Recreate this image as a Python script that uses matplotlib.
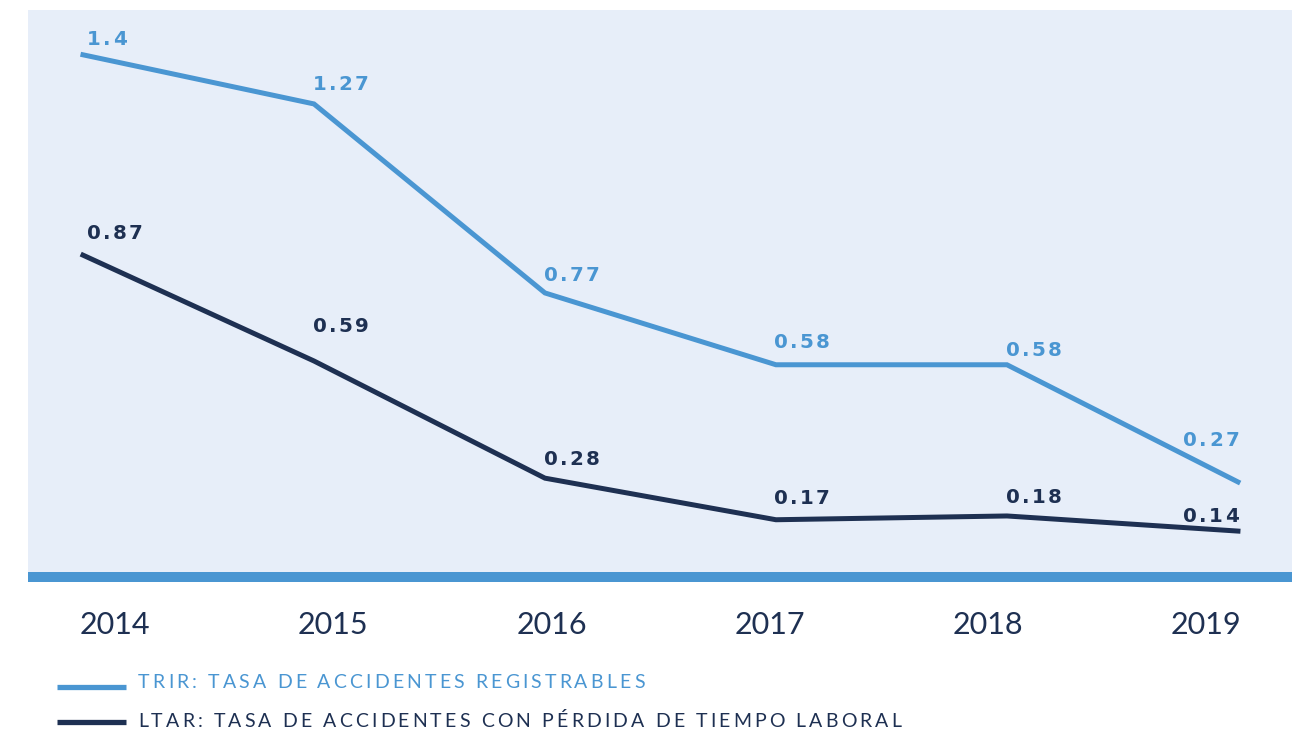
import matplotlib
matplotlib.use("Agg")
import matplotlib.pyplot as plt
from matplotlib.lines import Line2D
from matplotlib.font_manager import FontProperties, findfont, get_font

years = [2014, 2015, 2016, 2017, 2018, 2019]
trir = [1.40, 1.27, 0.77, 0.58, 0.58, 0.27]
ltar = [0.87, 0.59, 0.28, 0.17, 0.18, 0.14]
trir_labels = ["1.4", "1.27", "0.77", "0.58", "0.58", "0.27"]
ltar_labels = ["0.87", "0.59", "0.28", "0.17", "0.18", "0.14"]
year_labels = ["2014", "2015", "2016", "2017", "2018", "2019"]
legend_texts = ["TRIR: TASA DE ACCIDENTES REGISTRABLES",
                "LTAR: TASA DE ACCIDENTES CON PÉRDIDA DE TIEMPO LABORAL"]

LIGHT = "#4A96D2"
DARK = "#1E3052"
BG = "#E7EEF9"

W, H = 1298, 734
PT = 0.72  # points per pixel at dpi 100
fig = plt.figure(figsize=(W / 100, H / 100), dpi=100)


def px_axes(x0, y0, x1, y1):
    return fig.add_axes([x0 / W, 1 - y1 / H, (x1 - x0) / W, (y1 - y0) / H])


def advances(s, fp):
    font = get_font(findfont(fp))
    font.set_size(fp.get_size_in_points(), 72)
    return [font.load_char(ord(c)).linearHoriAdvance / 65536 for c in s]


def tracked(target, s, xy, xycoords, fp, track_pt, dx_pt, dy_pt, color, ha="left"):
    adv = advances(s, fp)
    total = sum(adv) + track_pt * (len(s) - 1)
    x = dx_pt - (total if ha == "right" else 0)
    for c, a in zip(s, adv):
        target.annotate(c, xy, xycoords=xycoords, xytext=(x, dy_pt),
                        textcoords="offset points", ha="left", va="baseline",
                        color=color, fontproperties=fp, annotation_clip=False)
        x += a + track_pt


ax = px_axes(28, 10, 1292, 582)
ax.set_facecolor(BG)
ax.set_xlim(2013.762, 2019.234)
ax.set_ylim(0.0053, 1.5185)
ax.axhspan(0.0053, 0.0317, color=LIGHT, lw=0, zorder=1)
for s in ax.spines.values():
    s.set_visible(False)
ax.set_yticks([])
ax.set_xticks([])

ax.plot(years, trir, color=LIGHT, lw=3.6, solid_joinstyle="miter", zorder=3)
ax.plot(years, ltar, color=DARK, lw=3.6, solid_joinstyle="miter", zorder=3)

lab_fp = FontProperties(family="DejaVu Sans", weight="bold", size=14.3)
trir_base = [10, 13.5, 11.5, 16.5, 9, 35.5]
ltar_base = [16.5, 28.5, 13.5, 15.5, 12.5, 9.5]
col_dx = [4, -1, -1, -2, -1, 1]
for i, yr in enumerate(years):
    ha = "right" if i == len(years) - 1 else "left"
    tracked(ax, trir_labels[i], (yr, trir[i]), "data", lab_fp, 1.6,
            col_dx[i] * PT, trir_base[i] * PT, LIGHT, ha)
    tracked(ax, ltar_labels[i], (yr, ltar[i]), "data", lab_fp, 1.6,
            col_dx[i] * PT, ltar_base[i] * PT, DARK, ha)

# year labels on their own scale
ax2 = px_axes(28, 634, 1292, 634.01)
ax2.set_xlim(2013.601, 2019.394)
ax2.set_ylim(0, 1)
ax2.axis("off")
for yr, lab in zip(years, year_labels):
    ax2.text(yr, 0, lab, ha="center", va="baseline", color=DARK, fontsize=22,
             family="Lato")

# legend
leg_fp = FontProperties(family="Lato", size=14)
for i, (txt, col) in enumerate(zip(legend_texts, [LIGHT, DARK])):
    line_y = 687 + i * 35
    base_y = 688 + i * 39
    fig.add_artist(Line2D([57 / W, 126 / W], [1 - line_y / H, 1 - line_y / H],
                          color=col, lw=3.8, solid_capstyle="butt"))
    tracked(ax2, txt, (138 / W, 1 - base_y / H), "figure fraction", leg_fp,
            2.25, 0, 0, col)

fig.savefig("out.png", dpi=100)
